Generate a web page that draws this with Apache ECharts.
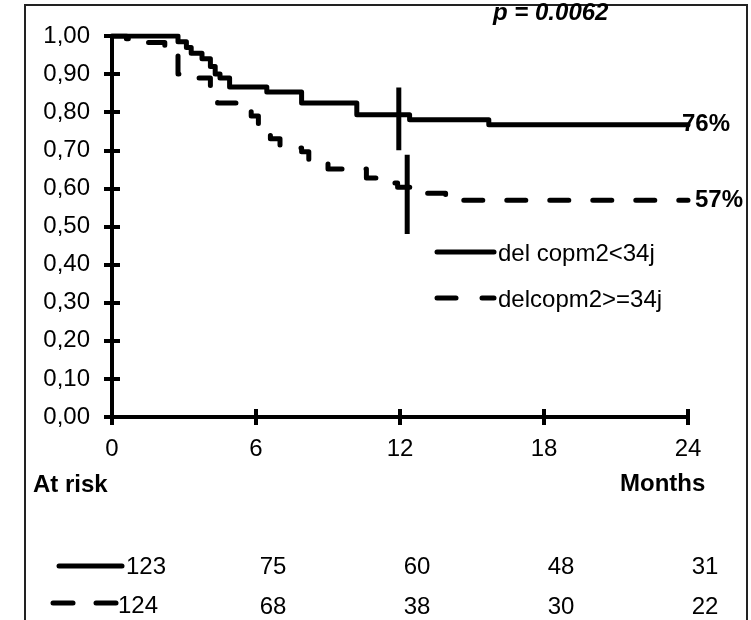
<!DOCTYPE html>
<html>
<head>
<meta charset="utf-8">
<script src="https://cdn.jsdelivr.net/npm/echarts@6/dist/echarts.min.js"></script>
<style>html,body{margin:0;padding:0;background:#fff;}#c{width:751px;height:620px;}</style>
</head>
<body>
<div id="c"></div>
<script>
// ---- data ----
const seriesNames = ['del copm2<34j', 'delcopm2>=34j'];
// Kaplan-Meier steps: [month, survival]
const curveShort = [[0,1.0],[2.75,0.985],[3.1,0.97],[3.3,0.955],[3.75,0.94],[4.1,0.92],[4.3,0.90],[4.5,0.89],[4.9,0.866],[6.45,0.853],[7.9,0.824],[10.2,0.793],[12.4,0.78],[15.7,0.767],[24,0.767]];
const curveLong = [[0,1.0],[0.6,0.993],[1.5,0.983],[2.2,0.975],[2.75,0.90],[3.6,0.89],[4.1,0.866],[4.4,0.824],[5.8,0.79],[6.1,0.77],[6.6,0.73],[7.0,0.706],[7.9,0.696],[8.2,0.667],[9.0,0.651],[10.6,0.627],[11.2,0.614],[11.9,0.603],[12.6,0.587],[13.9,0.569],[24,0.569]];
// 12-month vertical markers: [month, low, high]
const markerShort = [11.95, 0.70, 0.865];
const markerLong = [12.3, 0.48, 0.688];
const endPercents = ['76%', '57%'];
const pValueText = 'p = 0.0062';
const xTicks = [0, 6, 12, 18, 24];
const atRiskShort = [123, 75, 60, 48, 31];
const atRiskLong = [124, 68, 38, 30, 22];
const atRiskTitle = 'At risk';
const xTitle = 'Months';

const FONT = "'Liberation Sans', Arial, sans-serif";
const chart = echarts.init(document.getElementById('c'), null, {renderer: 'canvas'});

const axisCommonX = {type: 'value', min: 0, max: 24, interval: 6, position: 'bottom', splitLine: {show: false}};
const axisCommonY = {type: 'value', min: 0, max: 1, interval: 0.1, position: 'left', splitLine: {show: false}};

const option = {
  animation: false,
  backgroundColor: '#fff',
  grid: {left: 112, right: 63, top: 36, bottom: 203, containLabel: false},
  xAxis: [
    Object.assign({}, axisCommonX, {
      axisLine: {show: true, lineStyle: {color: '#000', width: 4}},
      axisTick: {show: true, length: 8, lineStyle: {color: '#000', width: 4}},
      axisLabel: {show: true, fontSize: 24, color: '#000', margin: 20, fontFamily: FONT}
    }),
    Object.assign({}, axisCommonX, {
      axisLine: {show: false},
      axisTick: {show: true, inside: true, length: 8, lineStyle: {color: '#000', width: 4}},
      axisLabel: {show: false}
    })
  ],
  yAxis: [
    Object.assign({}, axisCommonY, {
      axisLine: {show: true, lineStyle: {color: '#000', width: 4}},
      axisTick: {show: true, length: 8, lineStyle: {color: '#000', width: 4}},
      axisLabel: {show: true, fontSize: 24, color: '#000', margin: 22, fontFamily: FONT,
        formatter: v => v.toFixed(2).replace('.', ',')}
    }),
    Object.assign({}, axisCommonY, {
      axisLine: {show: false},
      axisTick: {show: true, inside: true, length: 8, lineStyle: {color: '#000', width: 4}},
      axisLabel: {show: false}
    })
  ],
  series: [
    {
      name: seriesNames[0], type: 'line', step: 'end', data: curveShort,
      showSymbol: false, symbol: 'none', silent: true,
      lineStyle: {color: '#000', width: 5, cap: 'round', join: 'round'},
      itemStyle: {color: '#000'},
      endLabel: {show: true, formatter: endPercents[0], fontSize: 24, fontWeight: 'bold', color: '#000', fontFamily: FONT, distance: -6}
    },
    {
      name: seriesNames[1], type: 'line', step: 'end', data: curveLong,
      showSymbol: false, symbol: 'none', silent: true,
      lineStyle: {color: '#000', width: 5, type: [19, 24], cap: 'round', join: 'round'},
      itemStyle: {color: '#000'},
      endLabel: {show: true, formatter: endPercents[1], fontSize: 24, fontWeight: 'bold', color: '#000', fontFamily: FONT, distance: 7}
    },
    {
      name: 'm1', type: 'line', data: [[markerShort[0], markerShort[1]], [markerShort[0], markerShort[2]]],
      showSymbol: false, symbol: 'none', silent: true,
      lineStyle: {color: '#000', width: 5}
    },
    {
      name: 'm2', type: 'line', data: [[markerLong[0], markerLong[1]], [markerLong[0], markerLong[2]]],
      showSymbol: false, symbol: 'none', silent: true,
      lineStyle: {color: '#000', width: 5}
    }
  ]
};
chart.setOption(option);

// ---- annotations / legend / at-risk table ----
const px = m => chart.convertToPixel({xAxisIndex: 0}, m);
const txt = (x, y, s, opts) => ({
  type: 'text', x: x, y: y, silent: true,
  style: Object.assign({text: String(s), fill: '#000', font: '24px ' + FONT, textVerticalAlign: 'middle', verticalAlign: 'middle', textAlign: 'left', align: 'left'}, opts || {})
});
const seg = (x1, y1, x2, y2) => ({type: 'line', silent: true, shape: {x1: x1, y1: y1, x2: x2, y2: y2}, style: {stroke: '#000', lineWidth: 5, lineCap: 'round'}});
const g = [];
g.push({type: 'rect', shape: {x: 25, y: 5, width: 722, height: 700}, style: {fill: 'none', stroke: '#222', lineWidth: 2}, silent: true});
g.push(txt(493, 13, pValueText, {font: 'italic bold 24px ' + FONT}));
// legend
g.push(seg(437, 252, 494, 252));
g.push(txt(498, 254, seriesNames[0]));
g.push(seg(437, 298, 456, 298));
g.push(seg(482, 298, 494, 298));
g.push(txt(498, 300, seriesNames[1]));
// table titles
g.push(txt(33, 485, atRiskTitle, {font: 'bold 24px ' + FONT}));
g.push(txt(620, 484, xTitle, {font: 'bold 24px ' + FONT}));
// table line samples
g.push(seg(59, 566, 122, 566));
g.push(seg(53, 603, 73, 603));
g.push(seg(96, 603, 116, 603));
xTicks.forEach((m, i) => {
  if (i === 0) {
    g.push(txt(px(m) + 14, 567, atRiskShort[i]));
    g.push(txt(px(m) + 6, 606, atRiskLong[i]));
  } else {
    g.push(txt(px(m) + 17, 567, atRiskShort[i], {textAlign: 'center', align: 'center'}));
    g.push(txt(px(m) + 17, 607, atRiskLong[i], {textAlign: 'center', align: 'center'}));
  }
});
chart.setOption({graphic: g});
</script>
</body>
</html>
